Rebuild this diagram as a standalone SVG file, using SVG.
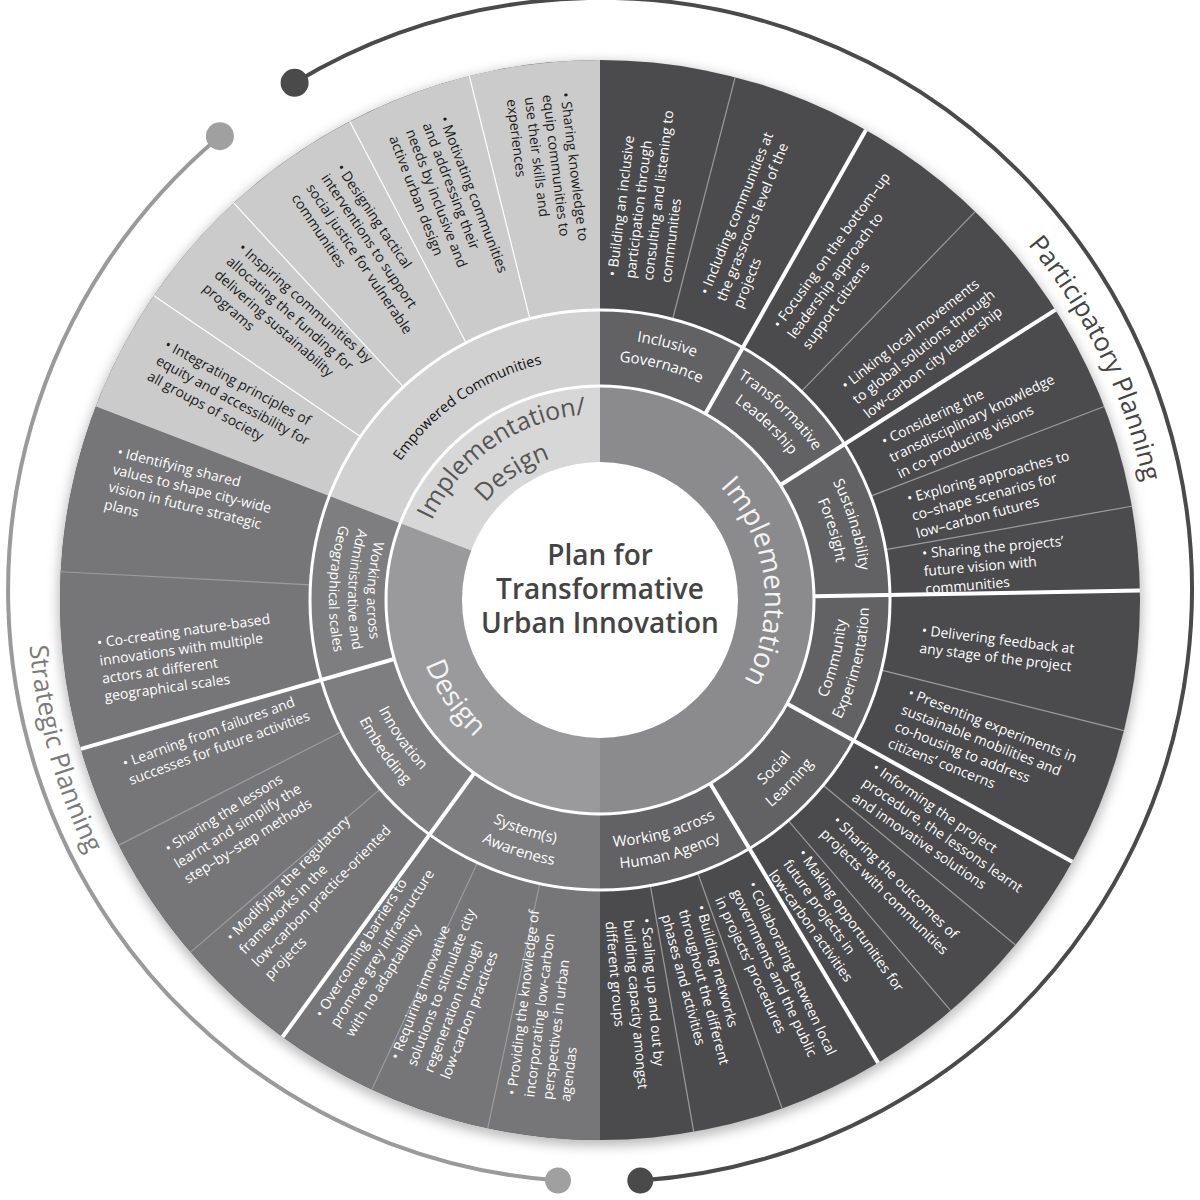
<svg xmlns="http://www.w3.org/2000/svg" xmlns:xlink="http://www.w3.org/1999/xlink" width="1200" height="1200" viewBox="0 0 1200 1200">
<defs>
<filter id="sh" x="-10%" y="-10%" width="120%" height="120%"><feGaussianBlur stdDeviation="6"/></filter>
<path id="cw261" d="M600,861 A261,261 0 1 1 600,339 A261,261 0 1 1 600,861"/>
<path id="cw239" d="M600,839 A239,239 0 1 1 600,361 A239,239 0 1 1 600,839"/>
<path id="cw243" d="M600,843 A243,243 0 1 1 600,357 A243,243 0 1 1 600,843"/>
<path id="cw165" d="M600,765 A165,165 0 1 1 600,435 A165,165 0 1 1 600,765"/>
<path id="cw186" d="M600,786 A186,186 0 1 1 600,414 A186,186 0 1 1 600,786"/>
<path id="cw150" d="M600,750 A150,150 0 1 1 600,450 A150,150 0 1 1 600,750"/>
<path id="cw556" d="M600,1156 A556,556 0 1 1 600,44 A556,556 0 1 1 600,1156"/>
<path id="ccw247" d="M600,353 A247,247 0 1 0 600,847 A247,247 0 1 0 600,353"/>
<path id="ccw269" d="M600,331 A269,269 0 1 0 600,869 A269,269 0 1 0 600,331"/>
<path id="ccw233" d="M600,367 A233,233 0 1 0 600,833 A233,233 0 1 0 600,367"/>
<path id="ccw252" d="M600,348 A252,252 0 1 0 600,852 A252,252 0 1 0 600,348"/>
<path id="ccw271" d="M600,329 A271,271 0 1 0 600,871 A271,271 0 1 0 600,329"/>
<path id="ccw186" d="M600,414 A186,186 0 1 0 600,786 A186,186 0 1 0 600,414"/>
<path id="ccw572" d="M600,28 A572,572 0 1 0 600,1172 A572,572 0 1 0 600,28"/>
</defs>
<style>
text{font-family:"Open Sans","Liberation Sans",sans-serif}
.it{font-size:14px;fill:#fff}
.itd{font-size:14px;fill:#1a1a1a}
.r2{font-size:15px;fill:#fff}
.r1{font-size:28px;fill:#f4f4f4}
.thick{stroke:#fff;stroke-width:4;fill:none}
.thin{stroke:#9c9c9e;stroke-width:1.2;fill:none}
.thinw{stroke:#fff;stroke-width:1.2;fill:none}
.ring{fill:none;stroke:#fff;stroke-width:3}
</style>
<rect width="1200" height="1200" fill="#fff"/>

<g id="arcs">
<path d="M294.6,82.8 A592,592 0 1 1 640.3,1180.6" fill="none" stroke="#4a4a4a" stroke-width="4"/>
<path d="M219.9,136.2 A592,592 0 0 0 558,1180.5" fill="none" stroke="#9a9a9a" stroke-width="4"/>
<circle cx="294.6" cy="82.8" r="14" fill="#4a4a4a"/>
<circle cx="640.3" cy="1180.6" r="13" fill="#4a4a4a"/>
<circle cx="219.9" cy="136.2" r="14" fill="#a0a0a0"/>
<circle cx="558" cy="1180.5" r="13" fill="#a0a0a0"/>
<text font-size="26" fill="#444"><textPath href="#cw556" xlink:href="#cw556" startOffset="67.78%" text-anchor="middle">Participatory Planning</textPath></text>
<text font-size="26" fill="#7a7a7a"><textPath href="#ccw572" xlink:href="#ccw572" startOffset="29.3%" text-anchor="middle">Strategic Planning</textPath></text>
</g>

<circle cx="600" cy="604" r="542" fill="#bbb" filter="url(#sh)"/>

<g id="outer-ring">
<circle cx="600" cy="600" r="540" fill="#4b4b4d"/>
<path d="M600,600 L600,1140 A540,540 0 0 1 95.87,406.48 Z" fill="#767678"/>
<path d="M600,600 L95.87,406.48 A540,540 0 0 1 600,60 Z" fill="#cbcbcb"/>
</g>
<g id="ring2">
<circle cx="600" cy="600" r="290" fill="#626264"/>
<path d="M600,600 L600,890 A290,290 0 0 1 329.26,496.07 Z" fill="#7e7e80"/>
<path d="M600,600 L329.26,496.07 A290,290 0 0 1 600,310 Z" fill="#d1d1d1"/>
</g>
<g id="ring1">
<circle cx="600" cy="600" r="214" fill="#8b8b8d"/>
<path d="M600,600 L600,814 A214,214 0 0 1 400.21,523.31 Z" fill="#9a9a9c"/>
<path d="M600,600 L400.21,523.31 A214,214 0 0 1 600,386 Z" fill="#d7d7d7"/>
</g>

<g id="connectors">
<line class="thin" x1="672.61" y1="319.24" x2="735.21" y2="77.20"/>
<line class="thin" x1="801.45" y1="391.39" x2="975.12" y2="211.56"/>
<line class="thin" x1="870.74" y1="496.07" x2="1104.13" y2="406.48"/>
<line class="thin" x1="885.59" y1="549.64" x2="1131.80" y2="506.23"/>
<line class="thin" x1="881.39" y1="670.16" x2="1123.96" y2="730.64"/>
<line class="thin" x1="823.13" y1="785.24" x2="1015.48" y2="944.94"/>
<line class="thin" x1="788.34" y1="820.52" x2="950.70" y2="1010.62"/>
<line class="thin" x1="697.76" y1="873.03" x2="782.03" y2="1108.39"/>
<line class="thin" x1="650.36" y1="885.59" x2="693.77" y2="1131.80"/>
<line class="thin" x1="539.71" y1="883.66" x2="487.73" y2="1128.20"/>
<line class="thin" x1="477.44" y1="862.83" x2="371.79" y2="1089.41"/>
<line class="thin" x1="380.14" y1="789.11" x2="190.61" y2="952.13"/>
<line class="thin" x1="341.61" y1="731.66" x2="118.85" y2="845.15"/>
<line class="thin" x1="310.40" y1="584.82" x2="60.74" y2="571.74"/>
<line class="thinw" x1="360.43" y1="436.58" x2="153.91" y2="295.69"/>
<line class="thinw" x1="403.33" y1="386.88" x2="233.79" y2="203.15"/>
<line class="thinw" x1="465.64" y1="342.00" x2="349.82" y2="121.45"/>
<line class="thinw" x1="529.84" y1="318.61" x2="469.36" y2="76.04"/>
<line class="thick" x1="705.38" y1="413.74" x2="865.91" y2="130.0"/>
<line class="thick" x1="780.49" y1="485.02" x2="1055.43" y2="309.86"/>
<line class="thick" x1="813.97" y1="596.27" x2="1139.92" y2="590.58"/>
<line class="thick" x1="787.17" y1="703.75" x2="1072.29" y2="861.80"/>
<line class="thick" x1="710.22" y1="783.43" x2="878.12" y2="1062.87"/>
<line class="thick" x1="474.21" y1="773.13" x2="282.59" y2="1036.87"/>
<line class="thick" x1="394.29" y1="658.99" x2="80.92" y2="748.85"/>
<circle class="ring" cx="600" cy="600" r="290"/>
<circle class="ring" cx="600" cy="600" r="214"/>
</g>

<g id="center">
<circle cx="600" cy="600" r="138" fill="#fff"/>
<text font-size="28" font-weight="600" fill="#444" text-anchor="middle"><tspan x="600" y="565">Plan for</tspan><tspan x="600" y="599">Transformative</tspan><tspan x="600" y="633">Urban Innovation</tspan></text>
</g>

<g id="implementation"><text class="r1"><textPath href="#cw165" xlink:href="#cw165" startOffset="73.06%" text-anchor="middle">Implementation</textPath></text></g>
<g id="design"><text class="r1"><textPath href="#ccw186" xlink:href="#ccw186" startOffset="34.44%" text-anchor="middle">Design</textPath></text></g>
<g id="impl-design" font-size="25" fill="#555">
<text><textPath href="#cw186" xlink:href="#cw186" startOffset="40.4%" text-anchor="middle">Implementation/</textPath></text>
<text><textPath href="#cw150" xlink:href="#cw150" startOffset="40.4%" text-anchor="middle">Design</textPath></text>
</g>

<g id="inclusive-governance">
<text class="r2"><textPath href="#cw261" xlink:href="#cw261" startOffset="54.10%" text-anchor="middle">Inclusive</textPath></text>
<text class="r2"><textPath href="#cw239" xlink:href="#cw239" startOffset="54.10%" text-anchor="middle">Governance</textPath></text>
</g>
<g id="transformative-leadership">
<text class="r2"><textPath href="#cw261" xlink:href="#cw261" startOffset="62.08%" text-anchor="middle">Transformative</textPath></text>
<text class="r2"><textPath href="#cw239" xlink:href="#cw239" startOffset="62.08%" text-anchor="middle">Leadership</textPath></text>
</g>
<g id="sustainability-foresight">
<text class="r2"><textPath href="#cw261" xlink:href="#cw261" startOffset="70.35%" text-anchor="middle">Sustainability</textPath></text>
<text class="r2"><textPath href="#cw239" xlink:href="#cw239" startOffset="70.35%" text-anchor="middle">Foresight</textPath></text>
</g>
<g id="community-experimentation">
<text class="r2"><textPath href="#ccw247" xlink:href="#ccw247" startOffset="71.11%" text-anchor="middle">Community</textPath></text>
<text class="r2"><textPath href="#ccw269" xlink:href="#ccw269" startOffset="71.11%" text-anchor="middle">Experimentation</textPath></text>
</g>
<g id="social-learning">
<text class="r2"><textPath href="#ccw247" xlink:href="#ccw247" startOffset="62.78%" text-anchor="middle">Social</textPath></text>
<text class="r2"><textPath href="#ccw269" xlink:href="#ccw269" startOffset="62.78%" text-anchor="middle">Learning</textPath></text>
</g>
<g id="human-agency">
<text class="r2"><textPath href="#ccw247" xlink:href="#ccw247" startOffset="54.31%" text-anchor="middle">Working across</textPath></text>
<text class="r2"><textPath href="#ccw269" xlink:href="#ccw269" startOffset="54.31%" text-anchor="middle">Human Agency</textPath></text>
</g>
<g id="systems-awareness">
<text class="r2"><textPath href="#ccw247" xlink:href="#ccw247" startOffset="45%" text-anchor="middle">System(s)</textPath></text>
<text class="r2"><textPath href="#ccw269" xlink:href="#ccw269" startOffset="45%" text-anchor="middle">Awareness</textPath></text>
</g>
<g id="innovation-embedding">
<text class="r2"><textPath href="#ccw247" xlink:href="#ccw247" startOffset="34.72%" text-anchor="middle">Innovation</textPath></text>
<text class="r2"><textPath href="#ccw269" xlink:href="#ccw269" startOffset="34.72%" text-anchor="middle">Embedding</textPath></text>
</g>
<g id="working-admin" font-size="14" fill="#fff">
<text><textPath href="#ccw233" xlink:href="#ccw233" startOffset="24.31%" text-anchor="middle">Working across</textPath></text>
<text><textPath href="#ccw252" xlink:href="#ccw252" startOffset="24.31%" text-anchor="middle">Administrative and</textPath></text>
<text><textPath href="#ccw271" xlink:href="#ccw271" startOffset="24.31%" text-anchor="middle">Geographical scales</textPath></text>
</g>
<g id="empowered-communities">
<text font-size="14.5" fill="#111"><textPath href="#cw243" xlink:href="#cw243" startOffset="40.42%" text-anchor="middle">Empowered Communities</textPath></text>
</g>

<g id="items-implementation">
<text class="it" transform="rotate(-83 600 600)"><tspan x="923" y="577.5">• Building an inclusive</tspan><tspan x="923" dy="18">participation through</tspan><tspan x="923" dy="18">consulting and listening to</tspan><tspan x="923" dy="18">communities</tspan></text>
<text class="it" transform="rotate(-68 600 600)"><tspan x="923" y="586.5">• Including communities at</tspan><tspan x="923" dy="18">the grassroots level of the</tspan><tspan x="923" dy="18">projects</tspan></text>
<text class="it" transform="rotate(-54 600 600)"><tspan x="925" y="586.5">• Focusing on the bottom–up</tspan><tspan x="925" dy="18">leadership approach to</tspan><tspan x="925" dy="18">support citizens</tspan></text>
<text class="it" transform="rotate(-38 600 600)"><tspan x="923" y="586.5">• Linking local movements</tspan><tspan x="923" dy="18">to global solutions through</tspan><tspan x="923" dy="18">low-carbon city leadership</tspan></text>
<text class="it" transform="rotate(-26 600 600)"><tspan x="923" y="586.5">• Considering the</tspan><tspan x="923" dy="18">transdisciplinary knowledge</tspan><tspan x="923" dy="18">in co-producing visions</tspan></text>
<text class="it" transform="rotate(-15 600 600)"><tspan x="923" y="586.5">• Exploring approaches to</tspan><tspan x="923" dy="18">co–shape scenarios for</tspan><tspan x="923" dy="18">low–carbon futures</tspan></text>
<text class="it" transform="rotate(-5 600 600)"><tspan x="925" y="586.5">• Sharing the projects’</tspan><tspan x="925" dy="18">future vision with</tspan><tspan x="925" dy="18">communities</tspan></text>
<text class="it" transform="rotate(7 600 600)"><tspan x="923" y="595.5">• Delivering feedback at</tspan><tspan x="923" dy="18">any stage of the project</tspan></text>
<text class="it" transform="rotate(21.5 600 600)"><tspan x="921" y="577.5">• Presenting experiments in</tspan><tspan x="921" dy="18">sustainable mobilities and</tspan><tspan x="921" dy="18">co-housing to address</tspan><tspan x="921" dy="18">citizens’ concerns</tspan></text>
<text class="it" transform="rotate(34.5 600 600)"><tspan x="920" y="586.5">• Informing the project</tspan><tspan x="920" dy="18">procedure, the lessons learnt</tspan><tspan x="920" dy="18">and innovative solutions</tspan></text>
<text class="it" transform="rotate(44.5 600 600)"><tspan x="921" y="595.5">• Sharing the outcomes of</tspan><tspan x="921" dy="18">projects with communities</tspan></text>
<text class="it" transform="rotate(54.5 600 600)"><tspan x="921" y="586.5">• Making opportunities for</tspan><tspan x="921" dy="18">future projects in</tspan><tspan x="921" dy="18">low-carbon activities</tspan></text>
<text class="it" transform="rotate(65 600 600)"><tspan x="920" y="586.5">• Collaborating between local</tspan><tspan x="920" dy="18">governments and the public</tspan><tspan x="920" dy="18">in projects’ procedures</tspan></text>
<text class="it" transform="rotate(75 600 600)"><tspan x="921" y="586.5">• Building networks</tspan><tspan x="921" dy="18">throughout the different</tspan><tspan x="921" dy="18">phases and activities</tspan></text>
<text class="it" transform="rotate(85 600 600)"><tspan x="921" y="586.5">• Scaling up and out by</tspan><tspan x="921" dy="18">building capacity amongst</tspan><tspan x="921" dy="18">different groups</tspan></text>
</g>

<g id="items-design">
<text class="it" transform="rotate(14 600 600)"><tspan x="96" y="577.5">• Identifying shared</tspan><tspan x="96" dy="18">values to shape city-wide</tspan><tspan x="96" dy="18">vision in future strategic</tspan><tspan x="96" dy="18">plans</tspan></text>
<text class="it" transform="rotate(-8 600 600)"><tspan x="96" y="577.5">• Co-creating nature-based</tspan><tspan x="96" dy="18">innovations with multiple</tspan><tspan x="96" dy="18">actors at different</tspan><tspan x="96" dy="18">geographical scales</tspan></text>
<text class="it" transform="rotate(-20 600 600)"><tspan x="96" y="595.5">• Learning from failures and</tspan><tspan x="96" dy="18">successes for future activities</tspan></text>
<text class="it" transform="rotate(-32 600 600)"><tspan x="100" y="586.5">• Sharing the lessons</tspan><tspan x="100" dy="18">learnt and simplify the</tspan><tspan x="100" dy="18">step–by–step methods</tspan></text>
<text class="it" transform="rotate(-45.5 600 600)"><tspan x="98" y="577.5">• Modifying the regulatory</tspan><tspan x="98" dy="18">frameworks in the</tspan><tspan x="98" dy="18">low–carbon practice-oriented</tspan><tspan x="98" dy="18">projects</tspan></text>
<text class="it" transform="rotate(-58 600 600)"><tspan x="98" y="586.5">• Overcoming barriers to</tspan><tspan x="98" dy="18">promote grey infrastructure</tspan><tspan x="98" dy="18">with no adaptability</tspan></text>
<text class="it" transform="rotate(-69 600 600)"><tspan x="98" y="577.5">• Requiring innovative</tspan><tspan x="98" dy="18">solutions  to stimulate city</tspan><tspan x="98" dy="18">regeneration through</tspan><tspan x="98" dy="18">low-carbon practices</tspan></text>
<text class="it" transform="rotate(-83 600 600)"><tspan x="98" y="577.5">• Providing the knowledge of</tspan><tspan x="98" dy="18">incorporating low-carbon</tspan><tspan x="98" dy="18">perspectives in urban</tspan><tspan x="98" dy="18">agendas</tspan></text>
</g>

<g id="items-empowered">
<text class="itd" transform="rotate(28.5 600 600)"><tspan x="96" y="586.5">• Integrating principles of</tspan><tspan x="96" dy="18">equity and accessibility for</tspan><tspan x="96" dy="18">all groups of society</tspan></text>
<text class="itd" transform="rotate(41.5 600 600)"><tspan x="96" y="577.5">• Inspiring communities by</tspan><tspan x="96" dy="18">allocating the funding for</tspan><tspan x="96" dy="18">delivering sustainability</tspan><tspan x="96" dy="18">programs</tspan></text>
<text class="itd" transform="rotate(56 600 600)"><tspan x="94" y="577.5">• Designing tactical</tspan><tspan x="94" dy="18">interventions to support</tspan><tspan x="94" dy="18">social justice for vulnerable</tspan><tspan x="94" dy="18">communities</tspan></text>
<text class="itd" transform="rotate(69 600 600)"><tspan x="93" y="577.5">• Motivating communities</tspan><tspan x="93" dy="18">and addressing their</tspan><tspan x="93" dy="18">needs by inclusive and</tspan><tspan x="93" dy="18">active urban design</tspan></text>
<text class="itd" transform="rotate(83 600 600)"><tspan x="92" y="577.5">• Sharing knowledge to</tspan><tspan x="92" dy="18">equip communities to</tspan><tspan x="92" dy="18">use their skills and</tspan><tspan x="92" dy="18">experiences</tspan></text>
</g>
</svg>
